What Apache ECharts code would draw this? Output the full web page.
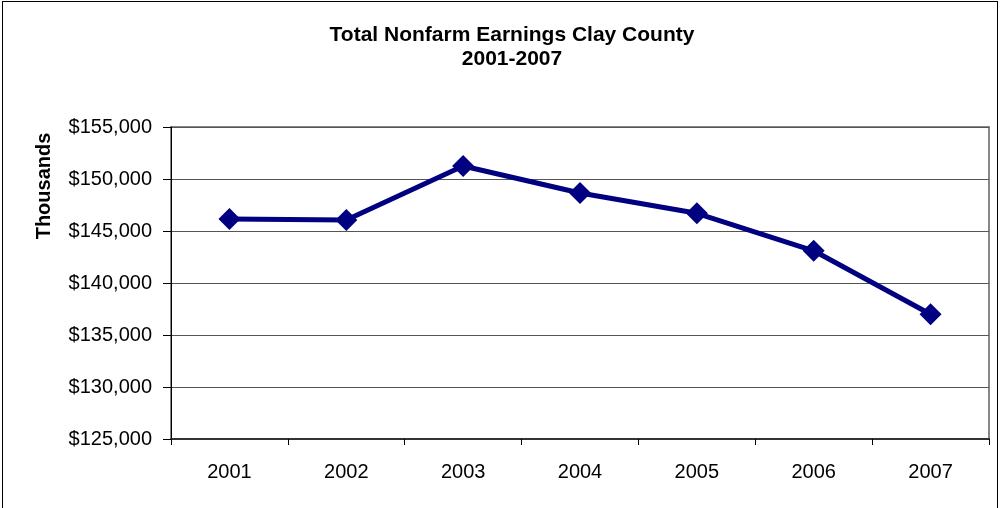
<!DOCTYPE html>
<html><head><meta charset="utf-8">
<script src="https://cdn.jsdelivr.net/npm/echarts@6/dist/echarts.min.js"></script>
<style>
html,body{margin:0;padding:0;background:#fff;}
#frame{position:absolute;left:2px;top:1px;width:996px;height:520px;border:1px solid #000;box-sizing:border-box;}
#c{position:absolute;left:0;top:0;width:1001px;height:508px;}
</style></head><body>
<div id="frame"></div>
<div id="c"></div>
<script>
const titleText = "Total Nonfarm Earnings Clay County\n2001-2007";
const yAxisName = "Thousands";
const categories = ["2001","2002","2003","2004","2005","2006","2007"];
const earnings = [146150, 146060, 151250, 148650, 146700, 143100, 137000];
const yMin = 125000, yMax = 155000, yStep = 5000;

const F = 'Liberation Sans, Arial, sans-serif';
const chart = echarts.init(document.getElementById('c'), null, {renderer:'canvas'});
chart.setOption({
  animation:false,
  backgroundColor:'transparent',
  title:{text:titleText,left:507,textAlign:'center',top:18,
    textStyle:{fontFamily:F,fontSize:21,fontWeight:'bold',color:'#000',lineHeight:24}},
  grid:{left:171,right:12,top:127,bottom:69,show:true,borderColor:'#888',borderWidth:2,backgroundColor:'#fff'},
  graphic:[{type:'text',x:44,y:186,rotation:Math.PI/2,
    style:{text:yAxisName,fontFamily:F,fontSize:20,fontWeight:'bold',fill:'#000',align:'center',verticalAlign:'middle'}}],
  xAxis:{type:'category',data:categories,boundaryGap:true,
    axisLine:{lineStyle:{color:'#333',width:2}},
    axisTick:{show:true,length:6,lineStyle:{color:'#000'}},
    axisLabel:{fontFamily:F,fontSize:20,color:'#000',margin:23}},
  yAxis:{type:'value',min:yMin,max:yMax,interval:yStep,
    axisLine:{show:true,lineStyle:{color:'#000',width:1}},
    axisTick:{show:true,length:8,lineStyle:{color:'#000'}},
    splitLine:{lineStyle:{color:'#555',width:1}},
    axisLabel:{fontFamily:F,fontSize:20,color:'#000',margin:19,
      formatter:v=>'$'+v.toLocaleString('en-US')}},
  series:[{type:'line',data:earnings,color:'#000080',
    lineStyle:{width:5,color:'#000080'},
    symbol:'diamond',symbolSize:22,
    itemStyle:{color:'#000080'}}]
});
</script>
</body></html>
